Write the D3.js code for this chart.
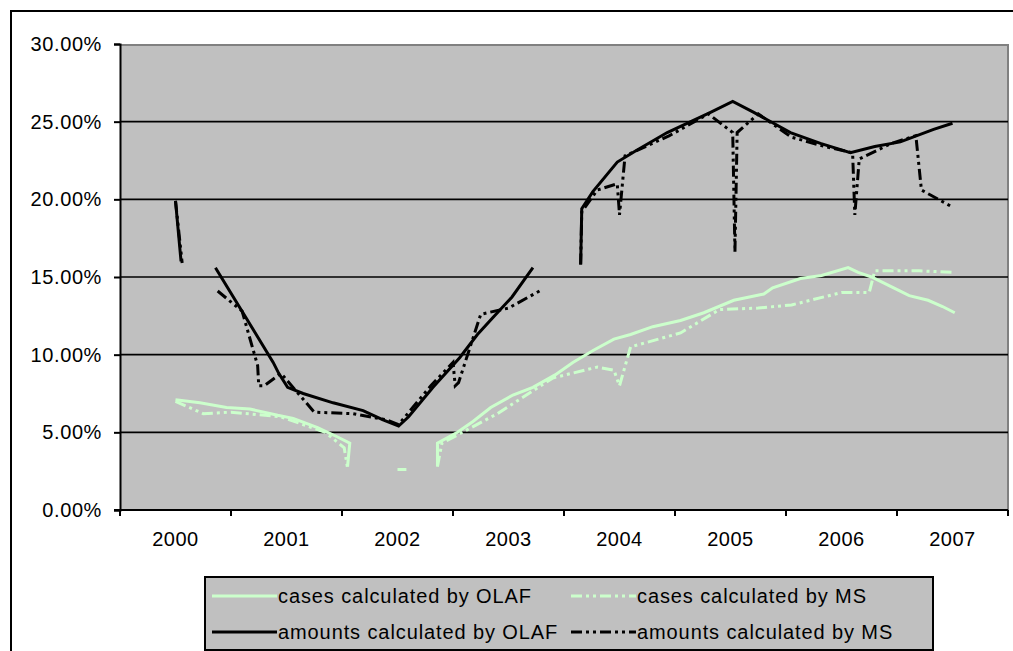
<!DOCTYPE html>
<html>
<head>
<meta charset="utf-8">
<script src="https://cdn.jsdelivr.net/npm/d3@7"></script>
<style>
    body { margin: 0; background: #fff; }
    text { font-family: "Liberation Sans", Arial, sans-serif; fill: #000; }
</style>
</head>
<body>
<script>
// categories and y ticks
var years = ["2000", "2001", "2002", "2003", "2004", "2005", "2006", "2007"];
var yTicks = [0, 5, 10, 15, 20, 25, 30];

// [time in years, percent]; null breaks the line
var casesOlaf = [
    [2000.00, 7.1], [2000.22, 6.9], [2000.46, 6.6], [2000.67, 6.5], [2000.92, 6.1],
    [2001.06, 5.9], [2001.28, 5.3], [2001.46, 4.7], [2001.57, 4.3], [2001.55, 2.8], [2001.55, null],
    [2002.36, 2.8], [2002.36, 4.3], [2002.54, 5.0], [2002.68, 5.7], [2002.84, 6.6],
    [2003.04, 7.4], [2003.22, 7.9], [2003.42, 8.7], [2003.58, 9.5], [2003.77, 10.3],
    [2003.95, 11.0], [2004.10, 11.3], [2004.30, 11.8], [2004.55, 12.2], [2004.76, 12.7],
    [2005.03, 13.5], [2005.30, 13.9], [2005.38, 14.3], [2005.63, 14.9], [2005.82, 15.1],
    [2006.06, 15.6], [2006.15, 15.3], [2006.27, 15.0], [2006.47, 14.3], [2006.61, 13.8],
    [2006.78, 13.5], [2006.91, 13.1], [2007.02, 12.7]
];
var casesMs = [
    [2000.00, 7.0], [2000.25, 6.2], [2000.50, 6.3], [2000.95, 6.0], [2001.35, 5.0],
    [2001.52, 4.0], [2001.55, 2.7], [2001.55, null],
    [2002.00, 2.6], [2002.08, 2.6], [2002.08, null],
    [2002.36, 2.8], [2002.40, 4.3], [2002.90, 6.2], [2003.40, 8.5], [2003.80, 9.2],
    [2003.95, 9.0], [2004.00, 8.0], [2004.10, 10.5], [2004.55, 11.4], [2004.90, 12.9],
    [2005.25, 13.0], [2005.55, 13.2], [2006.00, 14.0], [2006.25, 14.0], [2006.30, 15.4],
    [2006.70, 15.4], [2007.00, 15.3]
];
var amountsOlaf = [
    [2000.00, 19.9], [2000.05, 16.0], [2000.05, null],
    [2000.36, 15.6], [2000.88, 9.5], [2000.93, 8.8], [2001.01, 7.9], [2001.15, 7.5],
    [2001.42, 6.9], [2001.69, 6.4], [2001.87, 5.8], [2002.01, 5.4], [2002.10, 6.0],
    [2002.32, 7.9], [2002.56, 9.8], [2002.72, 11.3], [2002.86, 12.4], [2003.03, 13.7],
    [2003.22, 15.6], [2003.22, null],
    [2003.65, 15.8], [2003.66, 19.4], [2003.76, 20.5], [2003.98, 22.4], [2004.14, 23.1],
    [2004.43, 24.3], [2004.82, 25.6], [2005.02, 26.3], [2005.21, 25.6], [2005.54, 24.3],
    [2005.81, 23.6], [2006.08, 23.0], [2006.30, 23.4], [2006.53, 23.7], [2006.83, 24.5],
    [2007.00, 24.9]
];
var amountsMs = [
    [2000.00, 19.9], [2000.06, 15.9], [2000.06, null],
    [2000.38, 14.1], [2000.60, 12.8], [2000.74, 9.3], [2000.75, 8.0], [2000.80, 8.0],
    [2000.95, 8.8], [2001.25, 6.3], [2001.60, 6.2], [2001.90, 5.8], [2002.01, 5.5],
    [2002.30, 8.0], [2002.50, 9.5], [2002.52, 8.0], [2002.55, 8.2], [2002.75, 12.6],
    [2003.00, 13.0], [2003.28, 14.1], [2003.28, null],
    [2003.65, 15.8], [2003.66, 19.2], [2003.80, 20.6], [2003.98, 21.0], [2004.00, 19.0],
    [2004.05, 22.8], [2004.45, 24.1], [2004.80, 25.5], [2005.02, 24.3], [2005.04, 16.6],
    [2005.06, 24.3], [2005.25, 25.5], [2005.55, 24.0], [2005.85, 23.4], [2006.10, 23.0],
    [2006.12, 19.0], [2006.16, 22.6], [2006.45, 23.6], [2006.67, 24.1], [2006.72, 20.6],
    [2007.00, 19.5]
];

var seriesNames = ["cases calculated by OLAF", "cases calculated by MS",
    "amounts calculated by OLAF", "amounts calculated by MS"];

window.onload = function () {
    var width = 1013;
    var height = 651;
    var left = 120, right = 1008, top = 44, bottom = 510;
    var green = "#ccffcc";
    var dashDot = "11,4,3,4,3,4";

    var svg = d3.select("body")
        .append("svg")
        .attr("width", width)
        .attr("height", height);

    // outer chart frame
    svg.append("rect")
        .attr("x", 11).attr("y", 11)
        .attr("width", 1020).attr("height", 680)
        .attr("fill", "#fff")
        .attr("stroke", "#000")
        .attr("stroke-width", 2);

    var band = d3.scaleBand().domain(years).range([left, right]);
    var x = d3.scaleLinear().domain([1999.5, 2007.5]).range([left, right]);
    var y = d3.scaleLinear().domain([0, 30]).range([bottom, top]);

    // plot area
    svg.append("rect")
        .attr("x", left).attr("y", top)
        .attr("width", right - left).attr("height", bottom - top)
        .attr("fill", "#c0c0c0");
    svg.append("path")
        .attr("d", "M" + left + "," + (top + 1) + "H" + right + "V" + bottom)
        .attr("fill", "none")
        .attr("stroke", "#808080")
        .attr("stroke-width", 2);

    // gridlines
    svg.selectAll("line.grid")
        .data(yTicks.slice(1, -1))
        .enter()
        .append("line")
        .attr("class", "grid")
        .attr("x1", left).attr("x2", right)
        .attr("y1", function (d) { return y(d); })
        .attr("y2", function (d) { return y(d); })
        .attr("stroke", "#000")
        .attr("stroke-width", 1.6);

    // y axis
    var yAxis = svg.append("g")
        .attr("transform", "translate(" + left + ",0)")
        .call(d3.axisLeft(y).tickValues(yTicks).tickSize(6).tickPadding(12)
            .tickFormat(function (d) { return d.toFixed(2) + "%"; }));
    yAxis.select(".domain").attr("stroke", "#000").attr("stroke-width", 2);
    yAxis.selectAll(".tick line").attr("stroke", "#000").attr("stroke-width", 2);
    yAxis.selectAll("text").attr("font-size", 20).attr("letter-spacing", 0.6).attr("fill", "#000");

    // x axis: ticks on band edges, labels at band centres
    var xAxis = svg.append("g")
        .attr("transform", "translate(0," + bottom + ")");
    xAxis.append("line")
        .attr("x1", left - 6).attr("x2", right)
        .attr("stroke", "#000").attr("stroke-width", 2);
    xAxis.selectAll("line.tick")
        .data(years.concat(["end"]))
        .enter()
        .append("line")
        .attr("class", "tick")
        .attr("x1", function (d, i) { return i < years.length ? band(d) : band.range()[1]; })
        .attr("x2", function (d, i) { return i < years.length ? band(d) : band.range()[1]; })
        .attr("y1", 0).attr("y2", 6)
        .attr("stroke", "#000").attr("stroke-width", 2);
    xAxis.selectAll("text")
        .data(years)
        .enter()
        .append("text")
        .attr("x", function (d) { return band(d) + band.bandwidth() / 2; })
        .attr("y", 36)
        .attr("text-anchor", "middle")
        .attr("font-size", 20)
        .attr("letter-spacing", 0.5)
        .text(function (d) { return d; });

    var line = d3.line()
        .defined(function (d) { return d[1] !== null; })
        .x(function (d) { return x(d[0]); })
        .y(function (d) { return y(d[1]); });

    var series = [
        { data: casesOlaf, color: green, dash: null },
        { data: casesMs, color: green, dash: dashDot },
        { data: amountsOlaf, color: "#000", dash: null },
        { data: amountsMs, color: "#000", dash: dashDot }
    ];

    svg.selectAll("path.series")
        .data(series)
        .enter()
        .append("path")
        .attr("class", "series")
        .attr("d", function (d) { return line(d.data); })
        .attr("fill", "none")
        .attr("stroke", function (d) { return d.color; })
        .attr("stroke-width", 3)
        .attr("stroke-dasharray", function (d) { return d.dash; });

    // legend
    var legend = svg.append("g").attr("transform", "translate(205,577)");
    legend.append("rect")
        .attr("width", 728).attr("height", 73)
        .attr("fill", "#c0c0c0")
        .attr("stroke", "#000")
        .attr("stroke-width", 2);
    var items = legend.selectAll("g.item")
        .data(series)
        .enter()
        .append("g")
        .attr("class", "item")
        .attr("transform", function (d, i) {
            return "translate(" + (i % 2 === 0 ? 7 : 366) + "," + (i < 2 ? 19 : 55) + ")";
        });
    items.append("line")
        .attr("x1", 0).attr("x2", 65)
        .attr("stroke", function (d) { return d.color; })
        .attr("stroke-width", 3)
        .attr("stroke-dasharray", function (d) { return d.dash; });
    items.append("text")
        .attr("x", 66).attr("y", 7)
        .attr("font-size", 20)
        .attr("letter-spacing", 0.9)
        .text(function (d, i) { return seriesNames[i]; });
};
</script>
</body>
</html>
